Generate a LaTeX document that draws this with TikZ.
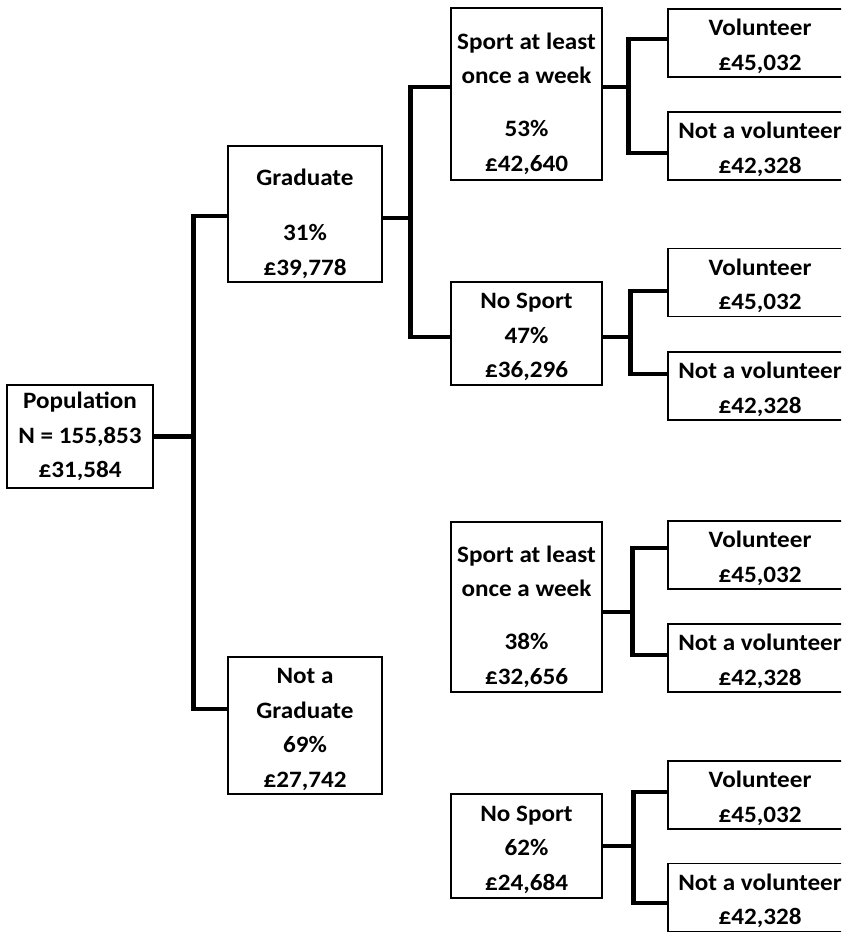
\documentclass[tikz,border=0pt]{standalone}
\usepackage{fontspec}
\setmainfont{Carlito}[FakeStretch=1.07]
\newcommand\stA{\rule{0pt}{23pt}}
\newcommand\stB{\rule{0pt}{36pt}}
\begin{document}
\begin{tikzpicture}[x=1pt,y=-1pt,
  box/.style={draw=black, line width=1.7pt, fill=white, inner sep=0pt, align=center,
    font=\fontsize{23.5}{34.5}\selectfont\bfseries},
  small/.style={box, minimum width=151pt},
  vol/.style={box, minimum width=184pt, minimum height=68pt},
  conn/.style={line width=4.8pt, line join=miter}]
\useasboundingbox (0,0) rectangle (841,934);
\clip (0,0) rectangle (841,934);
\fill[white] (0,0) rectangle (841,934);

% level 0
\node[box, minimum width=146pt, minimum height=103pt] (pop) at (80,436.5) {Population\\N = 155,853\\£31,584};
% level 1
\node[box, minimum width=154pt, minimum height=136pt] (grad) at (305,214) {\stB Graduate\\[20.5pt]31\%\\£39,778};
\node[box, minimum width=154pt, minimum height=137pt] (ngrad) at (305,725.5) {\stA Not a\\Graduate\\69\%\\£27,742};
% level 2
\node[small, minimum height=172pt] (s1) at (526.5,94) {\stB Sport at least\\once a week\\[18.5pt]53\%\\£42,640};
\node[small, minimum height=103pt] (n2) at (526.5,333.5) {\stA No Sport\\47\%\\£36,296};
\node[small, minimum height=170pt] (s3) at (526.5,607) {\stB Sport at least\\once a week\\[18.5pt]38\%\\£32,656};
\node[small, minimum height=104pt] (n4) at (526.5,846) {\stA No Sport\\62\%\\£24,684};
% level 3
\node[vol] (v1) at (760,43) {\stA Volunteer\\£45,032};
\node[vol] (nv1) at (760,146) {\stA Not a volunteer\\£42,328};
\node[vol] (v2) at (760,282.5) {\stA Volunteer\\£45,032};
\node[vol] (nv2) at (760,386) {\stA Not a volunteer\\£42,328};
\node[vol] (v3) at (760,555) {\stA Volunteer\\£45,032};
\node[vol] (nv3) at (760,658) {\stA Not a volunteer\\£42,328};
\node[vol] (v4) at (760,795) {\stA Volunteer\\£45,032};
\node[vol] (nv4) at (760,897.5) {\stA Not a volunteer\\£42,328};

% connectors
\draw[conn] (pop.east) -- ++(40,0) coordinate (j0);
\draw[conn] ([yshift=-2pt]grad.west) -| (j0) |- ([yshift=16.5pt]ngrad.west);

\draw[conn] ([yshift=-4pt]grad.east) -- ++(28,0) coordinate (j1);
\draw[conn] ([yshift=7pt]s1.west) -| (j1) |- ([yshift=-3.5pt]n2.west);

\draw[conn] ([yshift=7pt]s1.east) -- ++(26,0) coordinate (k1);
\draw[conn] ([yshift=4pt]v1.west) -| (k1) |- ([yshift=-7pt]nv1.west);

\draw[conn] ([yshift=-3.5pt]n2.east) -- ++(28,0) coordinate (k2);
\draw[conn] ([yshift=-8.5pt]v2.west) -| (k2) |- ([yshift=12pt]nv2.west);

\draw[conn] ([yshift=-5pt]s3.east) -- ++(30,0) coordinate (k3);
\draw[conn] ([yshift=7pt]v3.west) -| (k3) |- ([yshift=3pt]nv3.west);

\draw[conn] (n4.east) -- ++(31,0) coordinate (k4);
\draw[conn] ([yshift=3pt]v4.west) -| (k4) |- ([yshift=-5.5pt]nv4.west);
\end{tikzpicture}
\end{document}
